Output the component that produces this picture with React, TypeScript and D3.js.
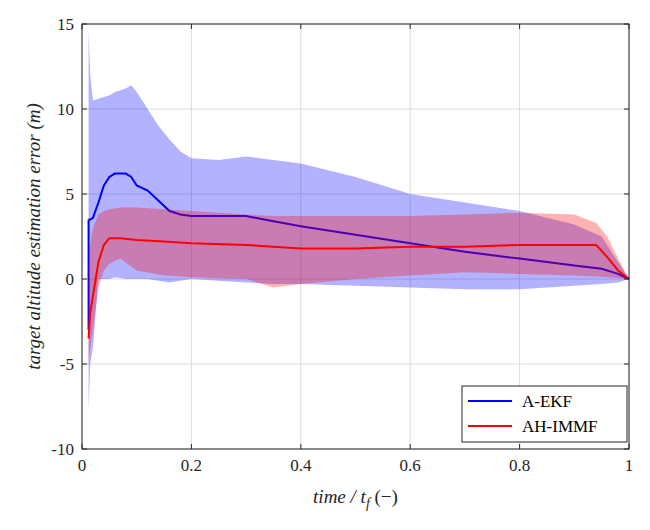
import React from "react";
import * as d3 from "d3";

const tB = [0.012, 0.015, 0.02, 0.03, 0.04, 0.05, 0.06, 0.08, 0.09, 0.1, 0.12, 0.14, 0.16, 0.18, 0.2, 0.25, 0.3, 0.35, 0.4, 0.5, 0.6, 0.7, 0.8, 0.9, 0.95, 0.98, 1];
const blueMean = [3.5, 3.5, 3.6, 4.5, 5.5, 6.0, 6.2, 6.2, 6.0, 5.5, 5.2, 4.6, 4.0, 3.8, 3.7, 3.7, 3.7, 3.4, 3.1, 2.6, 2.1, 1.6, 1.2, 0.8, 0.6, 0.3, 0];
const blueUpper = [14.7, 12, 10.5, 10.6, 10.7, 10.8, 11.0, 11.2, 11.4, 11.0, 10.0, 9.0, 8.2, 7.5, 7.1, 7.0, 7.2, 7.0, 6.8, 6.0, 5.0, 4.5, 4.0, 3.2, 2.5, 1.0, 0];
const blueLower = [-7.7, -5, -4, 0, 0, 0, 0.1, 0, 0, 0, 0, -0.1, -0.2, -0.1, 0, -0.1, -0.2, -0.3, -0.3, -0.4, -0.5, -0.6, -0.6, -0.4, -0.3, -0.2, 0];

const tR = [0.012, 0.015, 0.02, 0.03, 0.04, 0.05, 0.07, 0.1, 0.15, 0.2, 0.3, 0.35, 0.4, 0.5, 0.6, 0.7, 0.8, 0.9, 0.94, 0.96, 0.98, 1];
const redMean = [-3.5, -2, -1, 1.0, 2.0, 2.4, 2.4, 2.3, 2.2, 2.1, 2.0, 1.9, 1.8, 1.8, 1.9, 1.9, 2.0, 2.0, 2.0, 1.3, 0.5, 0];
const redUpper = [0.5, 2.0, 3.0, 3.8, 4.0, 4.1, 4.2, 4.2, 4.1, 4.0, 3.8, 3.7, 3.7, 3.7, 3.7, 3.8, 3.9, 3.8, 3.3, 2.5, 1.2, 0];
const redLower = [-5, -4, -3, -0.5, 0.5, 0.9, 1.2, 0.5, 0.2, 0.1, 0, -0.5, -0.3, 0, 0.2, 0.4, 0.3, 0.2, 0.15, 0.1, 0.05, 0];

const xTicks = [0, 0.2, 0.4, 0.6, 0.8, 1];
const yTicks = [-10, -5, 0, 5, 10, 15];

export default function App() {
  const L = 82, R = 629, T = 24, B = 449;
  const x = d3.scaleLinear().domain([0, 1]).range([L, R]);
  const y = d3.scaleLinear().domain([-10, 15]).range([B, T]);
  const font = "Liberation Serif, DejaVu Serif, serif";
  const area = (t: number[], lo: number[], hi: number[]) =>
    d3.area<number>().x((_, i) => x(t[i])).y0((_, i) => y(lo[i])).y1((_, i) => y(hi[i]))(t) || "";
  const line = (t: number[], v: number[]) =>
    d3.line<number>().x((_, i) => x(t[i])).y((_, i) => y(v[i]))(t) || "";
  return (
    <svg width={650} height={530} style={{ position: "absolute", left: 0, top: 0, fontFamily: font }}>
      <rect x={0} y={0} width={650} height={530} fill="#fff" />
      {xTicks.map(t => <line key={"gx" + t} x1={x(t)} x2={x(t)} y1={T} y2={B} stroke="#dcdcdc" strokeWidth={1} />)}
      {yTicks.map(t => <line key={"gy" + t} x1={L} x2={R} y1={y(t)} y2={y(t)} stroke="#dcdcdc" strokeWidth={1} />)}
      <path d={area(tB, blueLower, blueUpper)} fill="rgb(0,0,255)" fillOpacity={0.3} />
      <path d={"M" + x(0.012) + "," + y(-3) + "L" + x(0.012) + "," + y(3.5)} stroke="#0000ff" strokeWidth={2} />
      <path d={line(tB, blueMean)} fill="none" stroke="#0000ff" strokeWidth={2} />
      <path d={area(tR, redLower, redUpper)} fill="rgb(255,0,0)" fillOpacity={0.3} />
      <path d={line(tR, redMean)} fill="none" stroke="#ff0000" strokeWidth={2} />
      <rect x={L} y={T} width={R - L} height={B - T} fill="none" stroke="#262626" strokeWidth={1} />
      {xTicks.map(t => (
        <g key={"xt" + t}>
          <line x1={x(t)} x2={x(t)} y1={B} y2={B - 5} stroke="#262626" />
          <line x1={x(t)} x2={x(t)} y1={T} y2={T + 5} stroke="#262626" />
          <text x={x(t)} y={B + 22} textAnchor="middle" fontSize={17} fill="#262626">{t}</text>
        </g>
      ))}
      {yTicks.map(t => (
        <g key={"yt" + t}>
          <line x1={L} x2={L + 5} y1={y(t)} y2={y(t)} stroke="#262626" />
          <line x1={R} x2={R - 5} y1={y(t)} y2={y(t)} stroke="#262626" />
          <text x={L - 8} y={y(t) + 6} textAnchor="end" fontSize={17} fill="#262626">{t}</text>
        </g>
      ))}
      <text x={(L + R) / 2} y={503} textAnchor="middle" fontSize={19} fontStyle="italic" fill="#262626">
        time / t<tspan fontSize={14} dy={5}>f</tspan><tspan dy={-5} fontStyle="normal"> (−)</tspan>
      </text>
      <text transform={`translate(40,${(T + B) / 2}) rotate(-90)`} textAnchor="middle" fontSize={19} fontStyle="italic" fill="#262626">
        target altitude estimation error (m)
      </text>
      <g>
        <rect x={462} y={386} width={165} height={56} fill="#fff" stroke="#262626" strokeWidth={1} />
        <line x1={468} x2={512} y1={401} y2={401} stroke="#0000ff" strokeWidth={2} />
        <text x={522} y={407} fontSize={17} fill="#000">A-EKF</text>
        <line x1={468} x2={512} y1={426} y2={426} stroke="#ff0000" strokeWidth={2} />
        <text x={522} y={432} fontSize={17} fill="#000">AH-IMMF</text>
      </g>
    </svg>
  );
}
